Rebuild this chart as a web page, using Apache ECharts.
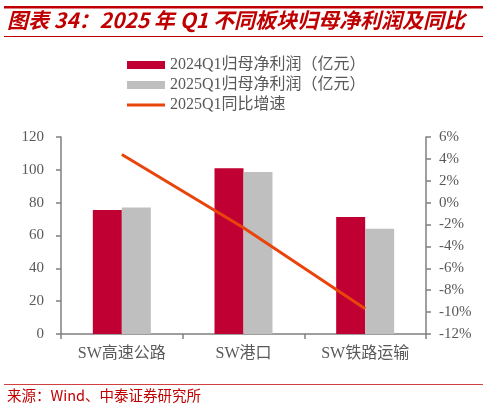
<!DOCTYPE html>
<html><head><meta charset="utf-8">
<script src="https://cdn.jsdelivr.net/npm/echarts@6/dist/echarts.min.js"></script>
<style>html,body{margin:0;padding:0;background:#fff}#c{width:488px;height:408px}</style>
</head><body><div id="c"></div>
<script>
var categories = ['SW高速公路', 'SW港口', 'SW铁路运输'];
var profit2024 = [75.5, 101, 71.3];
var profit2025 = [77, 98.7, 64.1];
var growth2025 = [4.4, -2.3, -9.7];
var leftTicks = {min: 0, max: 120, interval: 20};
var rightTicks = {min: -12, max: 6, interval: 2};
var names = ['2024Q1归母净利润（亿元）', '2025Q1归母净利润（亿元）', '2025Q1同比增速'];

var serif = '"Liberation Serif", "Noto Sans CJK SC", serif';
var chart = echarts.init(document.getElementById('c'), null, {renderer: 'canvas'});
chart.setOption({
  animation: false,
  backgroundColor: '#fff',
  graphic: [
    {type: 'rect', shape: {x: 4, y: 6, width: 479, height: 2.5}, style: {fill: '#C00000'}},
    {type: 'text', left: 7, top: 10, style: {text: '图表 34：2025 年 Q1 不同板块归母净利润及同比', fill: '#C00000', font: 'italic bold 21px "Noto Sans CJK SC", sans-serif'}},
    {type: 'rect', shape: {x: 4, y: 36, width: 479, height: 1}, style: {fill: '#C00000'}},
    {type: 'rect', shape: {x: 4, y: 384, width: 479, height: 1}, style: {fill: '#D04040'}},
    {type: 'text', left: 7, top: 388, style: {text: '来源：Wind、中泰证券研究所', fill: '#C00000', font: '14.5px "Noto Sans CJK SC", sans-serif'}}
  ],
  legend: {
    orient: 'vertical', left: 122, top: 52, itemWidth: 38, itemHeight: 8, itemGap: 4,
    textStyle: {color: '#595959', fontSize: 16, fontFamily: serif},
    data: [
      {name: names[0], icon: 'rect'},
      {name: names[1], icon: 'rect'},
      {name: names[2], icon: 'path://M0,0 L38,0 L38,3 L0,3 Z'}
    ]
  },
  grid: {left: 61, right: 62, top: 137, bottom: 74, containLabel: false},
  xAxis: {
    type: 'category', data: categories,
    axisLine: {lineStyle: {color: '#808080', width: 1.5}},
    axisTick: {show: true, length: 5, lineStyle: {color: '#808080', width: 1.5}},
    axisLabel: {color: '#595959', fontSize: 16, fontFamily: serif, margin: 12}
  },
  yAxis: [
    {type: 'value', min: leftTicks.min, max: leftTicks.max, interval: leftTicks.interval,
     splitLine: {show: false},
     axisLine: {show: true, lineStyle: {color: '#808080', width: 1.5}},
     axisTick: {show: true, length: 5, lineStyle: {color: '#808080', width: 1.5}},
     axisLabel: {color: '#595959', fontSize: 15, fontFamily: serif, margin: 17}},
    {type: 'value', min: rightTicks.min, max: rightTicks.max, interval: rightTicks.interval,
     position: 'right', splitLine: {show: false},
     axisLine: {show: true, lineStyle: {color: '#808080', width: 1.5}},
     axisTick: {show: true, length: 5, lineStyle: {color: '#808080', width: 1.5}},
     axisLabel: {color: '#595959', fontSize: 15, fontFamily: serif, margin: 13, formatter: '{value}%'}}
  ],
  series: [
    {name: names[0], type: 'bar', data: profit2024, barWidth: 29, barGap: '0%', itemStyle: {color: '#C00032'}},
    {name: names[1], type: 'bar', data: profit2025, barWidth: 29, itemStyle: {color: '#BFBFBF'}},
    {name: names[2], type: 'line', yAxisIndex: 1, data: growth2025, symbol: 'none', lineStyle: {color: '#E8440C', width: 3}, itemStyle: {color: '#E8440C'}, z: 5}
  ]
});
</script></body></html>
